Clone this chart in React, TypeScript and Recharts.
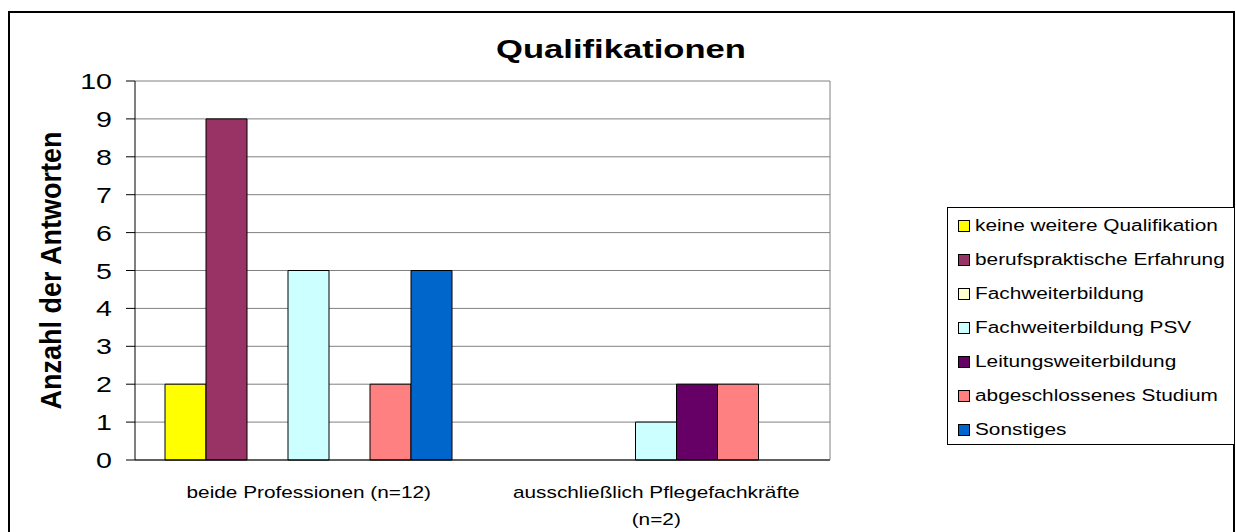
import { BarChart, Bar, XAxis, YAxis, CartesianGrid, Legend, Label, Text } from "recharts"

const FONT = "'Liberation Sans', Arial, Helvetica, sans-serif"
// the original picture is stretched sideways, so the texts get the same squeeze
const STRETCH = 1.3

const categories = ["beide Professionen (n=12)", "ausschließlich Pflegefachkräfte (n=2)"]

const keineWeitere = [2, 0]
const berufspraktisch = [9, 0]
const fachweiterbildung = [0, 0]
const fachweiterbildungPSV = [5, 1]
const leitungsweiterbildung = [0, 2]
const studium = [2, 2]
const sonstiges = [5, 0]

const seriesNames = [
  "keine weitere Qualifikation",
  "berufspraktische Erfahrung",
  "Fachweiterbildung",
  "Fachweiterbildung PSV",
  "Leitungsweiterbildung",
  "abgeschlossenes Studium",
  "Sonstiges",
]
const seriesColors = ["#FFFF00", "#993366", "#FFFFCC", "#CCFFFF", "#660066", "#FF8080", "#0066CC"]
const seriesValues = [
  keineWeitere,
  berufspraktisch,
  fachweiterbildung,
  fachweiterbildungPSV,
  leitungsweiterbildung,
  studium,
  sonstiges,
]

const yTicks = [0, 1, 2, 3, 4, 5, 6, 7, 8, 9, 10]
const edgeTicks = [0, 1, 2]

const data = categories.map((name, i) => {
  const row: Record<string, string | number> = { name }
  seriesValues.forEach((vals, s) => {
    row["s" + s] = vals[i]
  })
  return row
})

function YTick({ x, y, payload }: any) {
  return (
    <text
      x={0}
      y={0}
      transform={`translate(${x},${y + 8}) scale(${STRETCH},1)`}
      textAnchor="end"
      fontSize={22}
      fontFamily={FONT}
      fill="#000"
    >
      {payload.value}
    </text>
  )
}

function XTick({ x, y, payload }: any) {
  return (
    <g transform={`translate(${x},${y + 26}) scale(${STRETCH},1)`}>
      <Text
        x={0}
        y={0}
        width={250}
        textAnchor="middle"
        verticalAnchor="start"
        lineHeight={27}
        style={{ fontSize: 16, fontFamily: FONT }}
        fontSize={16}
        fontFamily={FONT}
        fill="#000"
      >
        {payload.value}
      </Text>
    </g>
  )
}

function YTitle({ viewBox }: any) {
  const cx = viewBox.x + 61
  const cy = viewBox.y + viewBox.height / 2
  return (
    <g transform={`translate(${cx},${cy})`}>
      <text
        x={0}
        y={0}
        transform="scale(1.12,1) rotate(-90)"
        textAnchor="middle"
        fontSize={27}
        fontWeight="bold"
        fontFamily={FONT}
        fill="#000"
      >
        Anzahl der Antworten
      </text>
    </g>
  )
}

function LegendBox() {
  return (
    <div
      style={{
        boxSizing: "border-box",
        width: 288,
        height: 238,
        border: "1px solid #000",
        background: "#fff",
        paddingTop: 1,
        paddingLeft: 10,
        fontFamily: FONT,
      }}
    >
      {seriesNames.map((name, s) => (
        <div key={name} style={{ display: "flex", alignItems: "center", height: 34 }}>
          <span
            style={{
              boxSizing: "border-box",
              width: 12,
              height: 12,
              border: "1px solid #000",
              background: seriesColors[s],
              marginRight: 5,
              flex: "none",
            }}
          />
          <span
            style={{
              display: "inline-block",
              fontSize: 16,
              lineHeight: "18px",
              whiteSpace: "nowrap",
              transform: `scaleX(${STRETCH})`,
              transformOrigin: "left center",
              color: "#000",
            }}
          >
            {name}
          </span>
        </div>
      ))}
    </div>
  )
}

export default function App() {
  return (
    <div style={{ position: "relative", width: 1236, height: 532, overflow: "hidden", background: "#fff" }}>
      <style>{`body{margin:0}`}</style>
      <div
        style={{
          position: "absolute",
          left: 8,
          top: 11,
          width: 1227,
          height: 530,
          boxSizing: "border-box",
          border: "2px solid #000",
          borderBottom: "none",
        }}
      />
      <div
        style={{
          position: "absolute",
          left: 621,
          top: 36,
          fontFamily: FONT,
          fontSize: 26,
          lineHeight: "26px",
          fontWeight: "bold",
          whiteSpace: "nowrap",
          transform: "translateX(-50%) scaleX(1.33)",
          color: "#000",
        }}
      >
        Qualifikationen
      </div>
      <div style={{ position: "absolute", left: 0, top: 0 }}>
        <BarChart
          width={1236}
          height={532}
          data={data}
          margin={{ top: 81, right: 405, bottom: 0, left: 0 }}
          barCategoryGap={30}
          barGap={0}
        >
          <CartesianGrid horizontal vertical={false} stroke="#808080" />
          <XAxis
            xAxisId="base"
            type="number"
            domain={[0, 2]}
            ticks={edgeTicks}
            allowDataOverflow
            height={1}
            tick={false}
            tickSize={6}
            tickLine={{ stroke: "#000" }}
            axisLine={{ stroke: "#000" }}
          />
          <XAxis
            xAxisId="cat"
            dataKey="name"
            height={71}
            axisLine={false}
            tickLine={false}
            tickSize={0}
            tickMargin={0}
            interval={0}
            tick={<XTick />}
          />
          <YAxis
            domain={[0, 10]}
            ticks={yTicks}
            width={135}
            tickSize={9}
            tickMargin={14}
            interval={0}
            axisLine={{ stroke: "#000" }}
            tickLine={{ stroke: "#000" }}
            tick={<YTick />}
          >
            <Label content={<YTitle />} />
          </YAxis>
          <YAxis
            yAxisId="right"
            orientation="right"
            width={1}
            tick={false}
            tickLine={false}
            axisLine={{ stroke: "#808080" }}
          />
          <Legend
            layout="horizontal"
            align="center"
            verticalAlign="middle"
            content={<LegendBox />}
            wrapperStyle={{ left: 947, top: 207, width: 288, height: 238 }}
          />
          {seriesNames.map((name, s) => (
            <Bar
              key={name}
              xAxisId="cat"
              dataKey={"s" + s}
              name={name}
              fill={seriesColors[s]}
              stroke="#000"
              strokeWidth={1}
              isAnimationActive={false}
            />
          ))}
        </BarChart>
      </div>
    </div>
  )
}
